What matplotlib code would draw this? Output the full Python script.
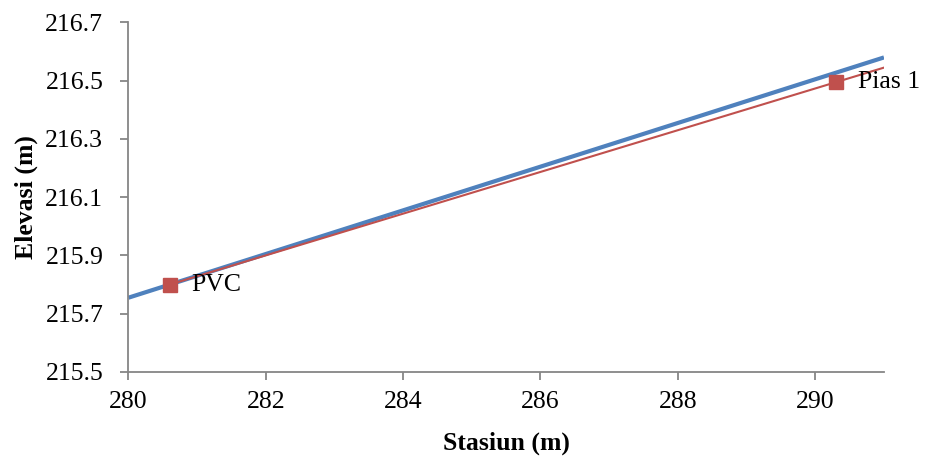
import matplotlib
matplotlib.use("Agg")
import matplotlib.pyplot as plt

# Tangent grade line (blue) across the station range
tangent_sta = [280.0, 291.0]
tangent_elev = [215.755, 216.58]

# Chord from PVC through Pias 1 (red), extended to the end of the range
chord_sta = [280.6, 290.3, 291.0]
chord_elev = [215.8, 216.495, 216.545]

point_labels = ["PVC", "Pias 1"]

x_ticks = [280, 282, 284, 286, 288, 290]
y_ticks = [215.5, 215.7, 215.9, 216.1, 216.3, 216.5, 216.7]

plt.rcParams["font.family"] = ["Liberation Serif", "DejaVu Serif"]

fig = plt.figure(figsize=(9.26, 4.57), dpi=100)
ax = fig.add_axes([0.1386, 0.186, 0.8160, 0.7648])

ax.plot(tangent_sta, tangent_elev, color="#4F81BD", lw=3.0, solid_capstyle="butt", zorder=2)
ax.plot(chord_sta, chord_elev, color="#C0504D", lw=1.5, zorder=3)
ax.plot(chord_sta[:2], chord_elev[:2], ls="none", marker="s", ms=10,
        color="#C0504D", zorder=4)

for sta, elev, lab in zip(chord_sta[:2], chord_elev[:2], point_labels):
    ax.annotate(lab, (sta, elev), xytext=(22, 0), textcoords="offset pixels",
                ha="left", va="center", fontsize=18.5)

ax.set_xlim(280, 291)
ax.set_ylim(215.5, 216.7)
ax.set_xticks(x_ticks)
ax.set_yticks(y_ticks)
ax.set_yticklabels([f"{v:.1f}" for v in y_ticks])

for side in ("top", "right"):
    ax.spines[side].set_visible(False)
for side in ("left", "bottom"):
    ax.spines[side].set_color("#868686")
    ax.spines[side].set_linewidth(1.3)

ax.tick_params(axis="both", colors="#868686", labelcolor="black",
               labelsize=18.5, length=6, width=1.3, direction="out")
ax.tick_params(axis="y", pad=12)
ax.tick_params(axis="x", pad=8)

ax.set_xlabel("Stasiun (m)", fontsize=18.5, fontweight="bold")
ax.set_ylabel("Elevasi (m)", fontsize=18.5, fontweight="bold")
ax.xaxis.set_label_coords(0.5, -0.17)
ax.yaxis.set_label_coords(-0.12, 0.5)

fig.savefig("out.png", dpi=100)
